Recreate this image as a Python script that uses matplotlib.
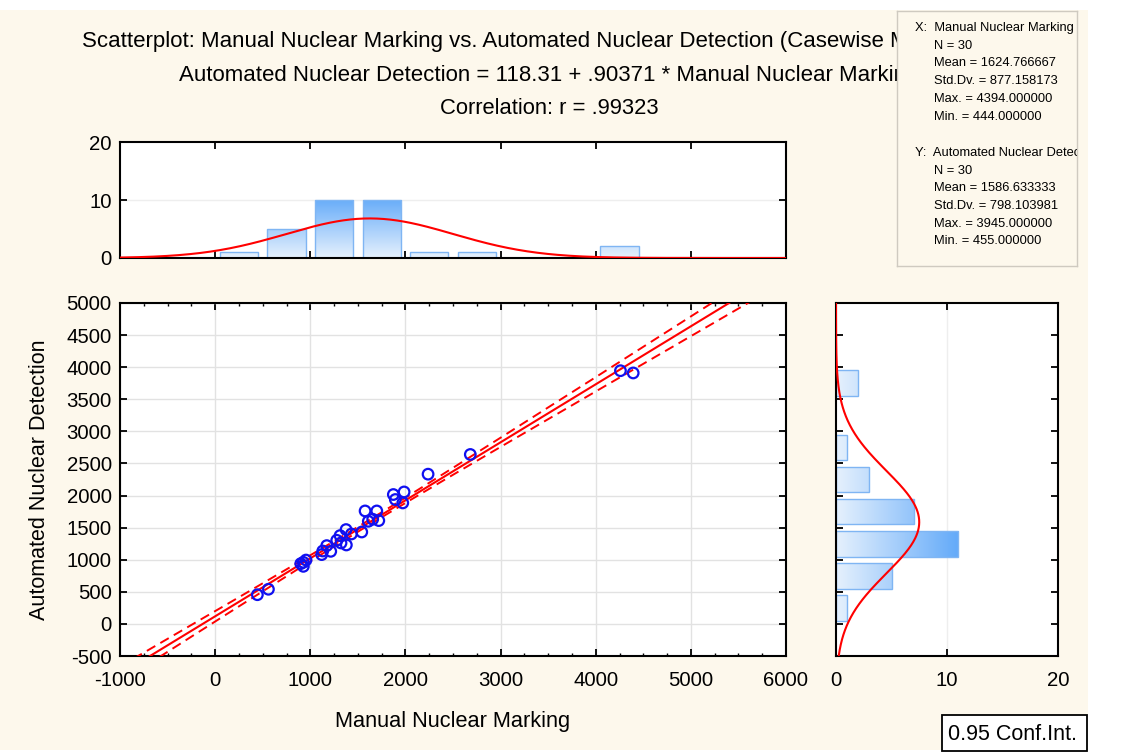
import numpy as np
import matplotlib
matplotlib.use('Agg')
import matplotlib.pyplot as plt
from matplotlib.patches import Rectangle
from matplotlib.colors import LinearSegmentedColormap
from matplotlib.ticker import MultipleLocator

plt.rcParams['font.family'] = ['Liberation Sans', 'DejaVu Sans']
plt.rcParams['axes.unicode_minus'] = False

# Manual vs automated nuclear counts, one value per case
manual = [2682, 2238, 1873, 1894, 1986, 1972, 1576, 1699, 1610, 1656,
          1720, 1541, 1376, 1313, 1432, 1278, 1323, 1379, 1173, 1131,
          1215, 1120, 955, 927, 900, 927, 4260, 4394, 444, 560]
automated = [2640, 2333, 2016, 1938, 2056, 1885, 1760, 1760, 1599, 1631,
             1610, 1432, 1470, 1376, 1401, 1303, 1261, 1230, 1220, 1136,
             1131, 1080, 995, 960, 939, 897, 3945, 3910, 455, 540]

# Regression and descriptive statistics
intercept = 118.31
slope = 0.90371
r_value = 0.99323
x_stats = dict(N=30, Mean=1624.766667, Std=877.158173, Max=4394.0, Min=444.0)
y_stats = dict(N=30, Mean=1586.633333, Std=798.103981, Max=3945.0, Min=455.0)
t_crit = 2.048  # t(0.975, 28)

bin_edges = np.arange(0, 6001, 500)

cream = '#fdf8ec'
bar_cmap = LinearSegmentedColormap.from_list('bars', ['#e6f1fd', '#63aaf9'])

W, H = 1131, 753
fig = plt.figure(figsize=(W / 100, H / 100), dpi=100)
fig.patch.set_facecolor('white')


def px_box(x0, y0, x1, y1):
    # pixel box (top-left origin) -> figure fraction rect
    return [x0 / W, 1 - y1 / H, (x1 - x0) / W, (y1 - y0) / H]


fig.patches.append(Rectangle((0, 1 - 750 / H), 1088 / W, 740 / H,
                             transform=fig.transFigure, facecolor=cream,
                             edgecolor='none', zorder=-10))

ax = fig.add_axes(px_box(120, 303, 786, 656))
ax_top = fig.add_axes(px_box(120, 142, 786, 258))
ax_right = fig.add_axes(px_box(836, 303, 1058, 656))

mx = np.array(manual, float)
my = np.array(automated, float)

# --- scatter with fitted line and 0.95 confidence band ---
xs = np.linspace(-1000, 6000, 400)
fit = intercept + slope * xs
resid = my - (intercept + slope * mx)
s = np.sqrt(np.sum(resid ** 2) / (len(mx) - 2))
sxx = np.sum((mx - mx.mean()) ** 2)
half = t_crit * s * np.sqrt(1 / len(mx) + (xs - mx.mean()) ** 2 / sxx)

ax.plot(xs, fit, color='red', lw=1.5, zorder=3)
ax.plot(xs, fit + half, color='red', lw=1.4, ls=(0, (5, 3)), zorder=3)
ax.plot(xs, fit - half, color='red', lw=1.4, ls=(0, (5, 3)), zorder=3)
ax.scatter(mx, my, s=58, facecolors='none', edgecolors='#1010f0',
           linewidths=1.6, zorder=4)

ax.set_xlim(-1000, 6000)
ax.set_ylim(-500, 5000)
ax.xaxis.set_major_locator(MultipleLocator(1000))
ax.xaxis.set_minor_locator(MultipleLocator(250))
ax.yaxis.set_major_locator(MultipleLocator(500))
ax.grid(True, which='major', color='#e2e2e2', lw=1)
ax.set_axisbelow(True)
ax.set_xlabel('Manual Nuclear Marking', fontsize=15.7, labelpad=15)
ax.set_ylabel('Automated Nuclear Detection', fontsize=15.5, labelpad=12)


# --- marginal histograms ---
def gradient_bars(a, lefts, heights, width, horizontal, vmax):
    grad = np.linspace(0, 1, 256)
    for pos, h in zip(lefts, heights):
        if h == 0:
            continue
        if horizontal:
            rect = Rectangle((0, pos), h, width, facecolor='none',
                             edgecolor='#7fb5f3', lw=1, zorder=2)
            img = grad[None, :]
            extent = (0, vmax, pos, pos + width)
        else:
            rect = Rectangle((pos, 0), width, h, facecolor='none',
                             edgecolor='#7fb5f3', lw=1, zorder=2)
            img = grad[:, None]
            extent = (pos, pos + width, 0, vmax)
        a.add_patch(rect)
        im = a.imshow(img, cmap=bar_cmap, extent=extent, origin='lower',
                      aspect='auto', zorder=1.5)
        im.set_clip_path(rect)


xc, _ = np.histogram(mx, bins=bin_edges)
yc, _ = np.histogram(my, bins=bin_edges)
bw = 500
gap = 50

gradient_bars(ax_top, bin_edges[:-1] + gap, xc, bw - 2 * gap, False, 10.5)
gradient_bars(ax_right, bin_edges[:-1] + gap, yc, bw - 2 * gap, True, 11)


def normal_curve(v, mean, sd):
    return len(mx) * bw * np.exp(-0.5 * ((v - mean) / sd) ** 2) / (sd * np.sqrt(2 * np.pi))


ax_top.plot(xs, normal_curve(xs, x_stats['Mean'], x_stats['Std']), color='red', lw=1.5, zorder=3)
ys = np.linspace(-500, 5000, 400)
ax_right.plot(normal_curve(ys, y_stats['Mean'], y_stats['Std']), ys, color='red', lw=1.5, zorder=3)

ax_top.set_xlim(-1000, 6000)
ax_top.set_ylim(0, 20)
ax_top.xaxis.set_major_locator(MultipleLocator(1000))
ax_top.yaxis.set_major_locator(MultipleLocator(10))
ax_top.set_xticklabels([])
ax_top.axhline(10, color='#eeeeee', lw=1, zorder=0)

ax_right.set_xlim(0, 20)
ax_right.set_ylim(-500, 5000)
ax_right.xaxis.set_major_locator(MultipleLocator(10))
ax_right.yaxis.set_major_locator(MultipleLocator(500))
ax_right.set_yticklabels([])
ax_right.axvline(10, color='#eeeeee', lw=1, zorder=0)

for a in (ax, ax_top, ax_right):
    a.set_facecolor('white')
    for sp in a.spines.values():
        sp.set_linewidth(1.5)
    a.tick_params(which='both', direction='in', top=True, right=True,
                  labelsize=14.7)
    a.tick_params(axis='x', pad=11)
    a.tick_params(axis='y', pad=6)
    a.tick_params(which='major', length=5, width=1.3)
    a.tick_params(which='minor', length=2.5, width=1)

# --- titles ---
title_x = 549 / W
fig.text(title_x, 1 - 42 / H,
         'Scatterplot: Manual Nuclear Marking vs. Automated Nuclear Detection (Casewise MD deletion)',
         ha='center', va='center', fontsize=16)
fig.text(title_x, 1 - 75 / H,
         'Automated Nuclear Detection = %.2f + %s * Manual Nuclear Marking'
         % (intercept, ('%.5f' % slope)[1:]),
         ha='center', va='center', fontsize=16)
fig.text(title_x, 1 - 108 / H, 'Correlation: r = %s' % ('%.5f' % r_value)[1:],
         ha='center', va='center', fontsize=15.8)

# --- descriptive statistics box ---
box = fig.add_axes(px_box(897, 11, 1077, 266), zorder=5)
box.set_facecolor(cream)
box.set_xticks([])
box.set_yticks([])
for sp in box.spines.values():
    sp.set_color('#cfcac0')
    sp.set_linewidth(1)
box.set_xlim(0, 180)
box.set_ylim(255, 0)


def stat_lines(label, st, y0):
    box.text(18, y0, label, fontsize=9.3, va='center', clip_on=True)
    rows = ['N = %d' % st['N'], 'Mean = %.6f' % st['Mean'],
            'Std.Dv. = %.6f' % st['Std'], 'Max. = %.6f' % st['Max'],
            'Min. = %.6f' % st['Min']]
    for i, row in enumerate(rows):
        box.text(37, y0 + 17.7 * (i + 1), row, fontsize=9.3, va='center', clip_on=True)


stat_lines('X:  Manual Nuclear Marking', x_stats, 17)
stat_lines('Y:  Automated Nuclear Detection', y_stats, 142)

# --- legend box ---
fig.patches.append(Rectangle((942 / W, 1 - 751 / H), 145 / W, 36 / H,
                             transform=fig.transFigure, facecolor='white',
                             edgecolor='black', lw=1.3, zorder=4))
fig.text(1013 / W, 1 - 734 / H, '0.95 Conf.Int.', ha='center', va='center',
         fontsize=15.5, zorder=5)

fig.savefig('out.png', dpi=100)
